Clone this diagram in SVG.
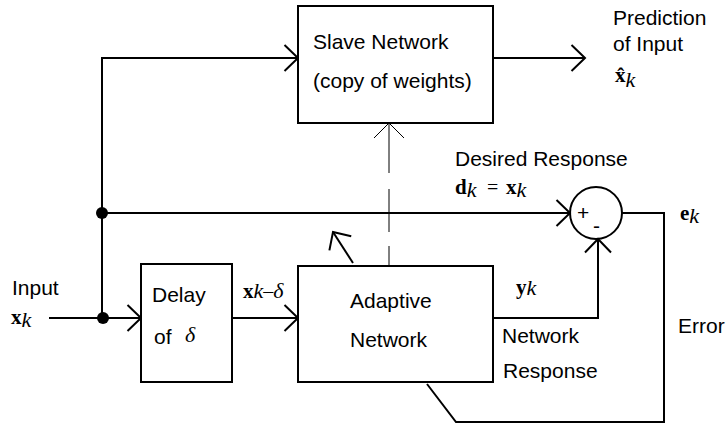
<svg xmlns="http://www.w3.org/2000/svg" width="726" height="425" viewBox="0 0 726 425">
  <style>
    .box { fill: #fff; stroke: #000; stroke-width: 2; }
    .wire { fill: none; stroke: #000; stroke-width: 2; }
    .thin { fill: none; stroke: #000; stroke-width: 1; }
    .lbl { font-family: "Liberation Sans", Arial, sans-serif; font-size: 21px; fill: #000; }
    .mb { font-family: "Liberation Serif", "Times New Roman", serif; font-weight: bold; font-size: 21px; fill: #000; }
    .mi { font-family: "Liberation Serif", "Times New Roman", serif; font-style: italic; font-size: 22px; fill: #000; }
    .ms { font-family: "Liberation Serif", "Times New Roman", serif; font-size: 20px; fill: #000; }
  </style>
  <defs>
    <marker id="arr" viewBox="0 0 30 30" refX="15" refY="15" markerWidth="30" markerHeight="30" markerUnits="userSpaceOnUse" orient="auto" overflow="visible">
      <path d="M1.5,2 L15,15 L1.5,28" fill="none" stroke="#000" stroke-width="2"/>
    </marker>
    <marker id="arrThin" viewBox="0 0 30 30" refX="15" refY="15" markerWidth="30" markerHeight="30" markerUnits="userSpaceOnUse" orient="auto" overflow="visible">
      <path d="M0,0 L15,15 L0,30" fill="none" stroke="#000" stroke-width="1"/>
    </marker>
  </defs>

  <!-- connectors -->
  <g id="connectors">
    <!-- input to delay -->
    <line class="wire" x1="49" y1="318" x2="141" y2="318" marker-end="url(#arr)"/>
    <!-- tap up to slave network -->
    <polyline class="wire" points="102,318 102,58 298,58" marker-end="url(#arr)"/>
    <!-- desired response to summer -->
    <line class="wire" x1="102" y1="213" x2="570" y2="213" marker-end="url(#arr)"/>
    <!-- delay to adaptive -->
    <line class="wire" x1="232" y1="318" x2="298" y2="318" marker-end="url(#arr)"/>
    <!-- slave output -->
    <line class="wire" x1="493" y1="58" x2="585" y2="58" marker-end="url(#arr)"/>
    <!-- network response to summer -->
    <polyline class="wire" points="493,318 598,318 598,239" marker-end="url(#arr)"/>
    <!-- error feedback -->
    <polyline class="wire" points="622,213 664,213 664,422 456,422 427,384"/>
    <!-- weight copy (dashed) -->
    <line class="thin" x1="389" y1="266" x2="389" y2="123" stroke-dasharray="20,14,43,16,50,0" marker-end="url(#arrThin)"/>
    <!-- adaptation arrow -->
    <line class="wire" x1="353" y1="263" x2="333" y2="232" marker-end="url(#arr)"/>
    <!-- junction dots -->
    <circle cx="102" cy="213" r="6" fill="#000"/>
    <circle cx="103" cy="318" r="6" fill="#000"/>
  </g>

  <g id="slave">
    <rect class="box" x="298" y="6" width="195" height="117"/>
    <text class="lbl" x="313" y="49">Slave Network</text>
    <text class="lbl" x="313" y="88">(copy of weights)</text>
  </g>

  <g id="delay">
    <rect class="box" x="141" y="264" width="91" height="118"/>
    <text class="lbl" x="152" y="302">Delay</text>
    <text class="lbl" x="154" y="344">of</text>
    <text class="mi" x="185" y="342">δ</text>
  </g>

  <g id="adaptive">
    <rect class="box" x="298" y="266" width="195" height="116"/>
    <text class="lbl" x="350" y="308">Adaptive</text>
    <text class="lbl" x="350" y="347">Network</text>
  </g>

  <g id="summer">
    <circle class="wire" cx="596" cy="213" r="26"/>
    <text class="lbl" x="577" y="220" font-size="14">+</text>
    <text class="lbl" x="593" y="233" font-size="14">-</text>
  </g>

  <!-- labels -->
  <g id="labels">
    <text class="lbl" x="12" y="295">Input</text>
    <text x="11" y="324"><tspan class="mb">x</tspan><tspan class="mi" dy="3">k</tspan></text>

    <text x="243" y="298"><tspan class="mb">x</tspan><tspan class="mi">k</tspan><tspan class="ms">–</tspan><tspan class="mi">δ</tspan></text>

    <text x="516" y="294"><tspan class="mb">y</tspan><tspan class="mi" dy="1">k</tspan></text>
    <text class="lbl" x="502" y="343">Network</text>
    <text class="lbl" x="503" y="378">Response</text>

    <text class="lbl" x="455" y="166">Desired Response</text>
    <text x="455" y="194"><tspan class="mb">d</tspan><tspan class="mi" dy="3">k</tspan></text>
    <text class="ms" x="487" y="194">=</text>
    <text x="506" y="194"><tspan class="mb">x</tspan><tspan class="mi" dy="3">k</tspan></text>

    <text x="680" y="220"><tspan class="mb">e</tspan><tspan class="mi" dy="3">k</tspan></text>
    <text class="lbl" x="678" y="333">Error</text>

    <text class="lbl" x="613" y="25">Prediction</text>
    <text class="lbl" x="613" y="51">of Input</text>
    <text x="615" y="82"><tspan class="mb">x̂</tspan><tspan class="mi" font-size="15" dy="5">k</tspan></text>
  </g>
</svg>
